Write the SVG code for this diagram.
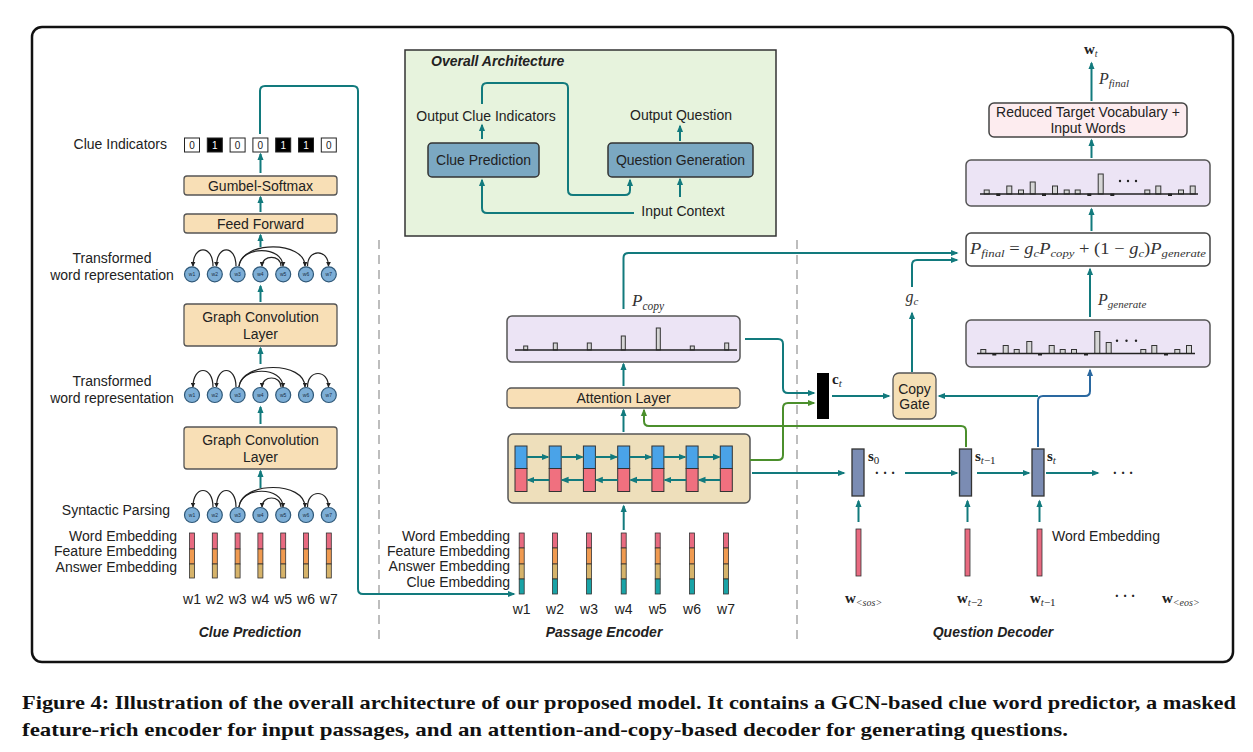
<svg xmlns="http://www.w3.org/2000/svg" xmlns:xlink="http://www.w3.org/1999/xlink" width="1253" height="752" viewBox="0 0 1253 752">
<style>
.t{font-family:"Liberation Sans",Arial,sans-serif;font-size:14px;fill:#222}
.bi{font-weight:bold;font-style:italic}
.m{font-family:"Liberation Serif","DejaVu Serif",serif;font-style:italic;fill:#333}
.mb{font-family:"Liberation Serif","DejaVu Serif",serif;font-weight:bold;fill:#222}
.pe{fill:#f8dfb6;stroke:#555;stroke-width:1.3}
.lav{fill:#ece4f5;stroke:#555;stroke-width:1.5}
.tl{fill:none;stroke:#127a7d;stroke-width:2}
.gl{fill:none;stroke:#4b8f2c;stroke-width:2}
.bl{fill:none;stroke:#2a68a0;stroke-width:2}
.bar{fill:#d6d6d6;stroke:#333;stroke-width:1}
.base{stroke:#222;stroke-width:1.3}
.dash{fill:#222}
.nd{fill:#7daed6;stroke:#2f5878;stroke-width:1.2}
.nl{font-family:"Liberation Sans",Arial,sans-serif;font-size:5px;fill:#1c2f44;text-anchor:middle}
.arc{fill:none;stroke:#222;stroke-width:1.2}
.ep{fill:#e86a80;stroke:#333;stroke-width:0.8}
.eo{fill:#f09a50;stroke:#333;stroke-width:0.8}
.et{fill:#d6b36a;stroke:#333;stroke-width:0.8}
.ec{fill:#19a3a6;stroke:#333;stroke-width:0.8}
.cb{fill:#4aa3e8;stroke:#333;stroke-width:1}
.cp{fill:#f0707f;stroke:#333;stroke-width:1}
.sc{fill:#7b8cb3;stroke:#333;stroke-width:1.3}
.sep{stroke:#bdbdbd;stroke-width:2;stroke-dasharray:9 6}
</style>
<defs>
<marker id="ah" viewBox="0 0 10 10" refX="8" refY="5" markerWidth="8" markerHeight="8" markerUnits="userSpaceOnUse" orient="auto"><path d="M0,1 L10,5 L0,9 z" fill="#127a7d"/></marker>
<marker id="ag" viewBox="0 0 10 10" refX="8" refY="5" markerWidth="8" markerHeight="8" markerUnits="userSpaceOnUse" orient="auto"><path d="M0,1 L10,5 L0,9 z" fill="#4b8f2c"/></marker>
<marker id="ab" viewBox="0 0 10 10" refX="8" refY="5" markerWidth="8" markerHeight="8" markerUnits="userSpaceOnUse" orient="auto"><path d="M0,1 L10,5 L0,9 z" fill="#2a68a0"/></marker>
<marker id="ak" viewBox="0 0 10 10" refX="9" refY="5" markerWidth="5" markerHeight="5" markerUnits="userSpaceOnUse" orient="auto"><path d="M0,0 L10,5 L0,10 z" fill="#222"/></marker>
<g id="deprow">
<path class="arc" marker-end="url(#ak)" d="M213,-8 C213,-30 193,-30 193,-8"/>
<path class="arc" marker-end="url(#ak)" d="M236,-8 C236,-30 216.5,-30 216.5,-8"/>
<path class="arc" marker-end="url(#ak)" d="M239,-8 C241,-29 283,-29 283,-8"/>
<path class="arc" marker-end="url(#ak)" d="M239,-8 C242,-34 305,-34 305,-8"/>
<path class="arc" marker-end="url(#ak)" d="M281,-8 C281,-20 262,-20 262,-8"/>
<path class="arc" marker-end="url(#ak)" d="M307.5,-8 C307.5,-26 328.5,-26 328.5,-8"/>
<circle class="nd" cx="192" cy="0" r="7.5"/><text class="nl" x="192" y="1.8">w1</text>
<circle class="nd" cx="214.8" cy="0" r="7.5"/><text class="nl" x="214.8" y="1.8">w2</text>
<circle class="nd" cx="237.6" cy="0" r="7.5"/><text class="nl" x="237.6" y="1.8">w3</text>
<circle class="nd" cx="260.4" cy="0" r="7.5"/><text class="nl" x="260.4" y="1.8">w4</text>
<circle class="nd" cx="283.2" cy="0" r="7.5"/><text class="nl" x="283.2" y="1.8">w5</text>
<circle class="nd" cx="306" cy="0" r="7.5"/><text class="nl" x="306" y="1.8">w6</text>
<circle class="nd" cx="328.8" cy="0" r="7.5"/><text class="nl" x="328.8" y="1.8">w7</text>
</g>
<g id="emb3">
<rect class="ep" x="-2.5" y="0" width="5" height="16"/>
<rect class="eo" x="-2.5" y="16" width="5" height="15"/>
<rect class="et" x="-2.5" y="31" width="5" height="14"/>
</g>
<g id="emb4">
<rect class="ep" x="-2.5" y="0" width="5" height="15"/>
<rect class="eo" x="-2.5" y="15" width="5" height="16"/>
<rect class="et" x="-2.5" y="31" width="5" height="15"/>
<rect class="ec" x="-2.5" y="46" width="5" height="15"/>
</g>
<g id="cell">
<rect class="cb" x="-6" y="0" width="12" height="22.5"/>
<rect class="cp" x="-6" y="22.5" width="12" height="23"/>
</g>
</defs>

<rect x="0" y="0" width="1253" height="752" fill="#fff"/>
<rect x="32" y="27" width="1201" height="635" rx="10" fill="#fff" stroke="#111" stroke-width="2.5"/>

<line class="sep" x1="379" y1="240" x2="379" y2="640"/>
<line class="sep" x1="797" y1="240" x2="797" y2="640"/>

<!-- ============ Clue Prediction column ============ -->
<g id="clue-indicators">
<text class="t" x="167" y="149" text-anchor="end">Clue Indicators</text>
<g font-family="Liberation Sans,Arial,sans-serif" font-size="10" text-anchor="middle">
<rect x="184.5" y="138" width="15" height="14" fill="#fff" stroke="#222"/><text x="192" y="148.5" fill="#222">0</text>
<rect x="207.3" y="138" width="15" height="14" fill="#000" stroke="#222"/><text x="214.8" y="148.5" fill="#fff">1</text>
<rect x="230.1" y="138" width="15" height="14" fill="#fff" stroke="#222"/><text x="237.6" y="148.5" fill="#222">0</text>
<rect x="252.9" y="138" width="15" height="14" fill="#fff" stroke="#222"/><text x="260.4" y="148.5" fill="#222">0</text>
<rect x="275.7" y="138" width="15" height="14" fill="#000" stroke="#222"/><text x="283.2" y="148.5" fill="#fff">1</text>
<rect x="298.5" y="138" width="15" height="14" fill="#000" stroke="#222"/><text x="306" y="148.5" fill="#fff">1</text>
<rect x="321.3" y="138" width="15" height="14" fill="#fff" stroke="#222"/><text x="328.8" y="148.5" fill="#222">0</text>
</g>
</g>
<g id="gumbel">
<rect class="pe" x="184" y="176" width="153" height="19" rx="3"/>
<text class="t" x="260.5" y="190.5" text-anchor="middle">Gumbel-Softmax</text>
</g>
<g id="feedforward">
<rect class="pe" x="184" y="214" width="153" height="19" rx="3"/>
<text class="t" x="260.5" y="228.5" text-anchor="middle">Feed Forward</text>
</g>
<g id="transformed-1">
<text class="t" x="112" y="263" text-anchor="middle">Transformed</text>
<text class="t" x="112" y="280" text-anchor="middle">word representation</text>
<use xlink:href="#deprow" href="#deprow" transform="translate(0,274.3)"/>
</g>
<g id="gcl-1">
<rect class="pe" x="184" y="304" width="153" height="42" rx="3"/>
<text class="t" x="260.5" y="322" text-anchor="middle">Graph Convolution</text>
<text class="t" x="260.5" y="339" text-anchor="middle">Layer</text>
</g>
<g id="transformed-2">
<text class="t" x="112" y="385.5" text-anchor="middle">Transformed</text>
<text class="t" x="112" y="403" text-anchor="middle">word representation</text>
<use xlink:href="#deprow" href="#deprow" transform="translate(0,395)"/>
</g>
<g id="gcl-2">
<rect class="pe" x="184" y="427" width="153" height="42" rx="3"/>
<text class="t" x="260.5" y="445" text-anchor="middle">Graph Convolution</text>
<text class="t" x="260.5" y="462" text-anchor="middle">Layer</text>
</g>
<g id="syntactic-parsing">
<text class="t" x="170" y="515" text-anchor="end">Syntactic Parsing</text>
<use xlink:href="#deprow" href="#deprow" transform="translate(0,515)"/>
</g>
<g id="clue-embeddings">
<text class="t" x="177" y="541" text-anchor="end">Word Embedding</text>
<text class="t" x="177" y="556" text-anchor="end">Feature Embedding</text>
<text class="t" x="177" y="572" text-anchor="end">Answer Embedding</text>
<use href="#emb3" xlink:href="#emb3" transform="translate(192,533)"/>
<use href="#emb3" xlink:href="#emb3" transform="translate(214.8,533)"/>
<use href="#emb3" xlink:href="#emb3" transform="translate(237.6,533)"/>
<use href="#emb3" xlink:href="#emb3" transform="translate(260.4,533)"/>
<use href="#emb3" xlink:href="#emb3" transform="translate(283.2,533)"/>
<use href="#emb3" xlink:href="#emb3" transform="translate(306,533)"/>
<use href="#emb3" xlink:href="#emb3" transform="translate(328.8,533)"/>
<g class="t" text-anchor="middle">
<text x="192" y="604">w1</text><text x="214.8" y="604">w2</text><text x="237.6" y="604">w3</text><text x="260.4" y="604">w4</text><text x="283.2" y="604">w5</text><text x="306" y="604">w6</text><text x="328.8" y="604">w7</text>
</g>
</g>
<text class="t bi" x="250" y="637" text-anchor="middle" font-size="14.5">Clue Prediction</text>

<!-- ============ Overall Architecture ============ -->
<g id="overall">
<rect x="405" y="50" width="371" height="186" fill="#e7f3dd" stroke="#333" stroke-width="1.5"/>
<text class="t bi" x="431" y="66">Overall Architecture</text>
<text class="t" x="486" y="121" text-anchor="middle">Output Clue Indicators</text>
<text class="t" x="681" y="120" text-anchor="middle">Output Question</text>
<g id="oa-clue">
<rect x="428" y="143" width="111" height="34" rx="4" fill="#7ba8c2" stroke="#333" stroke-width="1.5"/>
<text class="t" x="483.5" y="165" text-anchor="middle">Clue Prediction</text>
</g>
<g id="oa-qg">
<rect x="608" y="143" width="145" height="34" rx="4" fill="#7ba8c2" stroke="#333" stroke-width="1.5"/>
<text class="t" x="680.5" y="165" text-anchor="middle">Question Generation</text>
</g>
<text class="t" x="683" y="215.5" text-anchor="middle">Input Context</text>
<path class="tl" marker-end="url(#ah)" d="M482,139 V125"/>
<path class="tl" marker-end="url(#ah)" d="M680,141 V126"/>
<path class="tl" marker-end="url(#ah)" d="M680,197 V179"/>
<path class="tl" marker-end="url(#ah)" d="M634,213 H487 Q482,213 482,208 V180"/>
<path class="tl" marker-end="url(#ah)" d="M482,104 V88 Q482,83 487,83 H563 Q568,83 568,88 V190 Q568,195 573,195 H625 Q630,195 630,190 V180"/>
</g>

<!-- ============ Passage Encoder ============ -->
<g id="enc-embeddings">
<text class="t" x="510" y="541" text-anchor="end">Word Embedding</text>
<text class="t" x="510" y="556" text-anchor="end">Feature Embedding</text>
<text class="t" x="510" y="571" text-anchor="end">Answer Embedding</text>
<text class="t" x="510" y="587" text-anchor="end">Clue Embedding</text>
<use href="#emb4" xlink:href="#emb4" transform="translate(521.7,533)"/>
<use href="#emb4" xlink:href="#emb4" transform="translate(555,533)"/>
<use href="#emb4" xlink:href="#emb4" transform="translate(589,533)"/>
<use href="#emb4" xlink:href="#emb4" transform="translate(623.7,533)"/>
<use href="#emb4" xlink:href="#emb4" transform="translate(657.7,533)"/>
<use href="#emb4" xlink:href="#emb4" transform="translate(692,533)"/>
<use href="#emb4" xlink:href="#emb4" transform="translate(726,533)"/>
<g class="t" text-anchor="middle">
<text x="521.7" y="614">w1</text><text x="555" y="614">w2</text><text x="589" y="614">w3</text><text x="623.7" y="614">w4</text><text x="657.7" y="614">w5</text><text x="692" y="614">w6</text><text x="726" y="614">w7</text>
</g>
</g>
<text class="t bi" x="604" y="637" text-anchor="middle" font-size="14.5">Passage Encoder</text>

<g id="bilstm">
<rect x="508" y="434" width="242" height="69" rx="5" fill="#eedfbb" stroke="#555" stroke-width="1.5"/>
<use href="#cell" xlink:href="#cell" transform="translate(521,446)"/>
<use href="#cell" xlink:href="#cell" transform="translate(555.2,446)"/>
<use href="#cell" xlink:href="#cell" transform="translate(589.4,446)"/>
<use href="#cell" xlink:href="#cell" transform="translate(623.7,446)"/>
<use href="#cell" xlink:href="#cell" transform="translate(657.9,446)"/>
<use href="#cell" xlink:href="#cell" transform="translate(692.1,446)"/>
<use href="#cell" xlink:href="#cell" transform="translate(726.3,446)"/>
<g class="tl" stroke-width="1.8">
<path marker-end="url(#ah)" d="M527,457 H548"/>
<path marker-end="url(#ah)" d="M561.2,457 H582.4"/>
<path marker-end="url(#ah)" d="M595.4,457 H616.7"/>
<path marker-end="url(#ah)" d="M629.7,457 H650.9"/>
<path marker-end="url(#ah)" d="M663.9,457 H685.1"/>
<path marker-end="url(#ah)" d="M698.1,457 H719.3"/>
<path marker-end="url(#ah)" d="M549.2,480 H528"/>
<path marker-end="url(#ah)" d="M583.4,480 H562.2"/>
<path marker-end="url(#ah)" d="M617.7,480 H596.4"/>
<path marker-end="url(#ah)" d="M651.9,480 H630.7"/>
<path marker-end="url(#ah)" d="M686.1,480 H664.9"/>
<path marker-end="url(#ah)" d="M720.3,480 H699.1"/>
</g>
</g>

<g id="attention">
<rect class="pe" x="507" y="388" width="233" height="20" rx="4"/>
<text class="t" x="623.5" y="403" text-anchor="middle">Attention Layer</text>
</g>

<g id="pcopy-dist">
<rect class="lav" x="507" y="316" width="233" height="46" rx="5"/>
<rect class="bar" x="523.7" y="346" width="4" height="4"/>
<rect class="bar" x="553.3" y="343" width="4" height="7"/>
<rect class="bar" x="587.3" y="343" width="4" height="7"/>
<rect class="bar" x="621.3" y="336" width="4" height="14"/>
<rect class="bar" x="656.3" y="328" width="4" height="22"/>
<rect class="bar" x="690.3" y="346" width="4" height="4"/>
<rect class="bar" x="724.7" y="343" width="4" height="7"/>
<line class="base" x1="515" y1="350" x2="737" y2="350"/>
</g>
<text class="m" x="632" y="306" font-size="17">P<tspan font-size="11.5" dy="4">copy</tspan></text>

<!-- ============ Question Decoder ============ -->
<g id="ct">
<rect x="817" y="373" width="12" height="46" fill="#000"/>
<text class="mb" x="832" y="384" font-size="15">c<tspan class="m" font-weight="normal" font-size="11" dy="3">t</tspan></text>
</g>
<g id="copy-gate">
<rect x="893" y="373" width="43" height="46" rx="6" fill="#f5dfb5" stroke="#555" stroke-width="1.3"/>
<text class="t" x="914.5" y="394" text-anchor="middle" font-size="14.5">Copy</text>
<text class="t" x="914.5" y="409" text-anchor="middle" font-size="14.5">Gate</text>
</g>
<text class="m" x="912" y="302" text-anchor="middle" font-size="16">g<tspan font-size="11" dy="3">c</tspan></text>

<g id="pfinal-formula">
<rect x="966" y="233" width="244" height="33" rx="5" fill="#fff" stroke="#444" stroke-width="1.5"/>
<text class="m" x="970" y="254" font-size="16" textLength="236" lengthAdjust="spacingAndGlyphs">P<tspan font-size="11" dy="3">final</tspan><tspan dy="-3" font-style="normal"> = </tspan>g<tspan font-size="11" dy="3">c</tspan><tspan dy="-3">P</tspan><tspan font-size="11" dy="3">copy</tspan><tspan dy="-3" font-style="normal"> + (1 − </tspan>g<tspan font-size="11" dy="3">c</tspan><tspan dy="-3" font-style="normal">)</tspan>P<tspan font-size="11" dy="3">generate</tspan></text>
</g>
<text class="m" x="1098" y="305" font-size="16">P<tspan font-size="11" dy="3">generate</tspan></text>

<g id="pgen-dist">
<rect class="lav" x="966" y="320" width="244" height="47" rx="5"/>
<rect class="bar" x="980.8" y="349.5" width="5" height="4"/>
<rect class="bar" x="1003.2" y="345.5" width="5" height="8"/>
<rect class="bar" x="1014.2" y="349.5" width="5" height="4"/>
<rect class="bar" x="1026.8" y="341.5" width="5" height="12"/>
<rect class="bar" x="1049.2" y="345.5" width="5" height="8"/>
<rect class="bar" x="1060.2" y="349.5" width="5" height="4"/>
<rect class="bar" x="1071.5" y="349.5" width="5" height="4"/>
<rect class="bar" x="1094.8" y="331.5" width="5" height="22"/>
<rect class="bar" x="1106.2" y="342.5" width="5" height="11"/>
<rect class="bar" x="1140.8" y="349.5" width="5" height="4"/>
<rect class="bar" x="1151.8" y="345.5" width="5" height="8"/>
<rect class="bar" x="1174.8" y="349.5" width="5" height="4"/>
<rect class="bar" x="1186.5" y="345.5" width="5" height="8"/>
<line class="base" x1="977" y1="353.5" x2="1195" y2="353.5"/>
<rect class="dash" x="992.3" y="353" width="4" height="2.5"/>
<rect class="dash" x="1038" y="353" width="4" height="2.5"/>
<rect class="dash" x="1084" y="353" width="4" height="2.5"/>
<rect class="dash" x="1164" y="353" width="4" height="2.5"/>
<circle cx="1117" cy="340.7" r="1.2" fill="#222"/><circle cx="1126.5" cy="340.7" r="1.2" fill="#222"/><circle cx="1136" cy="340.7" r="1.2" fill="#222"/>
</g>

<g id="final-dist">
<rect class="lav" x="966" y="160" width="244" height="46" rx="5"/>
<rect class="bar" x="984.2" y="190" width="5" height="4"/>
<rect class="bar" x="1006.8" y="186" width="5" height="8"/>
<rect class="bar" x="1018.5" y="190" width="5" height="4"/>
<rect class="bar" x="1030.2" y="182" width="5" height="12"/>
<rect class="bar" x="1052.5" y="186" width="5" height="8"/>
<rect class="bar" x="1064.2" y="190" width="5" height="4"/>
<rect class="bar" x="1075.2" y="190" width="5" height="4"/>
<rect class="bar" x="1098.2" y="174" width="5" height="20"/>
<rect class="bar" x="1144.8" y="190" width="5" height="4"/>
<rect class="bar" x="1155.8" y="186" width="5" height="8"/>
<rect class="bar" x="1178.5" y="190" width="5" height="4"/>
<rect class="bar" x="1190.2" y="186" width="5" height="8"/>
<line class="base" x1="980" y1="194" x2="1198" y2="194"/>
<rect class="dash" x="996.3" y="193.5" width="4" height="2.5"/>
<rect class="dash" x="1042" y="193.5" width="4" height="2.5"/>
<rect class="dash" x="1087.3" y="193.5" width="4" height="2.5"/>
<rect class="dash" x="1110.3" y="193.5" width="4" height="2.5"/>
<rect class="dash" x="1168" y="193.5" width="4" height="2.5"/>
<circle cx="1120" cy="181" r="1.2" fill="#222"/><circle cx="1128" cy="181" r="1.2" fill="#222"/><circle cx="1136" cy="181" r="1.2" fill="#222"/>
</g>

<g id="reduced-vocab">
<rect x="989" y="103" width="198" height="34" rx="5" fill="#fdecef" stroke="#444" stroke-width="1.5"/>
<text class="t" x="1088" y="117" text-anchor="middle">Reduced Target Vocabulary +</text>
<text class="t" x="1088" y="133" text-anchor="middle">Input Words</text>
</g>
<text class="m" x="1099" y="84" font-size="16">P<tspan font-size="11" dy="3">final</tspan></text>
<text class="mb" x="1084" y="54" font-size="15">w<tspan class="m" font-weight="normal" font-size="10" dy="3">t</tspan></text>

<g id="s0">
<rect class="sc" x="852" y="449" width="12" height="47"/>
<text class="mb" x="868" y="461" font-size="15">s<tspan font-weight="normal" font-size="11" dy="3">0</tspan></text>
</g>
<g id="st-1">
<rect class="sc" x="959.5" y="449" width="12" height="47"/>
<text class="mb" x="975" y="461" font-size="15">s<tspan class="m" font-weight="normal" font-size="11" dy="3">t</tspan><tspan font-weight="normal" font-size="11">−1</tspan></text>
</g>
<g id="st">
<rect class="sc" x="1032" y="449" width="12" height="47"/>
<text class="mb" x="1047" y="461" font-size="15">s<tspan class="m" font-weight="normal" font-size="11" dy="3">t</tspan></text>
</g>
<text class="mb" x="885" y="478" text-anchor="middle" font-size="14">· · ·</text>
<text class="mb" x="1123" y="478" text-anchor="middle" font-size="14">· · ·</text>

<g id="dec-emb">
<rect class="ep" x="856" y="529" width="5" height="47"/>
<rect class="ep" x="965" y="529" width="5" height="47"/>
<rect class="ep" x="1037" y="529" width="5" height="47"/>
<text class="t" x="1052" y="541">Word Embedding</text>
</g>
<g id="dec-words">
<text class="mb" x="845" y="603" font-size="15">w<tspan class="m" font-weight="normal" font-size="10" dy="3">&lt;sos&gt;</tspan></text>
<text class="mb" x="957" y="603" font-size="15">w<tspan class="m" font-weight="normal" font-size="11" dy="3">t</tspan><tspan font-weight="normal" font-size="11">−2</tspan></text>
<text class="mb" x="1030" y="603" font-size="15">w<tspan class="m" font-weight="normal" font-size="11" dy="3">t</tspan><tspan font-weight="normal" font-size="11">−1</tspan></text>
<text class="mb" x="1125" y="601" text-anchor="middle" font-size="14">· · ·</text>
<text class="mb" x="1162" y="603" font-size="15">w<tspan class="m" font-weight="normal" font-size="10" dy="3">&lt;eos&gt;</tspan></text>
</g>
<text class="t bi" x="993" y="637" text-anchor="middle" font-size="14.5">Question Decoder</text>

<!-- ============ Connectors ============ -->
<g id="connectors">
<!-- left column -->
<path class="tl" marker-end="url(#ah)" d="M260.5,173 V154"/>
<path class="tl" marker-end="url(#ah)" d="M260.5,212 V197"/>
<path class="tl" marker-end="url(#ah)" d="M260.5,247 V235"/>
<path class="tl" marker-end="url(#ah)" d="M260.5,302 V286"/>
<path class="tl" marker-end="url(#ah)" d="M260.5,364 V348"/>
<path class="tl" marker-end="url(#ah)" d="M260.5,424 V407"/>
<path class="tl" marker-end="url(#ah)" d="M260.5,488 V471"/>
<!-- clue indicators to encoder -->
<path class="tl" marker-end="url(#ah)" d="M260,134 V91 Q260,86 265,86 H353 Q358,86 358,91 V589 Q358,594 363,594 H514"/>
<!-- encoder -->
<path class="tl" marker-end="url(#ah)" d="M623.7,530 V506"/>
<path class="tl" marker-end="url(#ah)" d="M623.5,432 V410"/>
<path class="tl" marker-end="url(#ah)" d="M623.5,386 V364"/>
<path class="tl" marker-end="url(#ah)" d="M623.5,309 V258 Q623.5,253 628.5,253 H957"/>
<path class="tl" marker-end="url(#ah)" d="M745,339 H778 Q783,339 783,344 V388 Q783,393 788,393 H814"/>
<path class="gl" marker-end="url(#ag)" d="M750,460 H778 Q783,460 783,455 V408 Q783,403 788,403 H814"/>
<path class="gl" marker-end="url(#ag)" d="M966,447 V431 Q966,426 961,426 H649 Q644,426 644,421 V410"/>
<path class="tl" marker-end="url(#ah)" d="M752,473 H844"/>
<!-- decoder -->
<path class="tl" marker-end="url(#ah)" d="M905,473 H957"/>
<path class="tl" marker-end="url(#ah)" d="M977,473 H1029"/>
<path class="tl" marker-end="url(#ah)" d="M1046,473 H1098"/>
<path class="tl" marker-end="url(#ah)" d="M858.5,522 V501"/>
<path class="tl" marker-end="url(#ah)" d="M967.5,522 V501"/>
<path class="tl" marker-end="url(#ah)" d="M1039.5,522 V501"/>
<path class="tl" marker-end="url(#ah)" d="M832,396 H889"/>
<path class="tl" marker-end="url(#ah)" d="M1038,396 H939"/>
<path class="bl" marker-end="url(#ab)" d="M1038,447 V401 Q1038,396 1043,396 H1085 Q1090,396 1090,391 V370"/>
<path class="tl" marker-end="url(#ah)" d="M912,372 V313"/>
<path class="tl" marker-end="url(#ah)" d="M912,287 V265 Q912,260 917,260 H957"/>
<path class="tl" marker-end="url(#ah)" d="M1090,317 V269"/>
<path class="tl" marker-end="url(#ah)" d="M1091.5,231 V209"/>
<path class="tl" marker-end="url(#ah)" d="M1091.5,158 V140"/>
<path class="tl" marker-end="url(#ah)" d="M1091.5,101 V63"/>
</g>

<!-- caption -->
<text x="22" y="709" font-family="'Liberation Serif','Times New Roman',serif" font-weight="bold" font-size="19.5" fill="#111" textLength="1214" lengthAdjust="spacingAndGlyphs">Figure 4: Illustration of the overall architecture of our proposed model. It contains a GCN-based clue word predictor, a masked</text>
<text x="22" y="736" font-family="'Liberation Serif','Times New Roman',serif" font-weight="bold" font-size="19.5" fill="#111" textLength="1046" lengthAdjust="spacingAndGlyphs">feature-rich encoder for input passages, and an attention-and-copy-based decoder for generating questions.</text>
</svg>
